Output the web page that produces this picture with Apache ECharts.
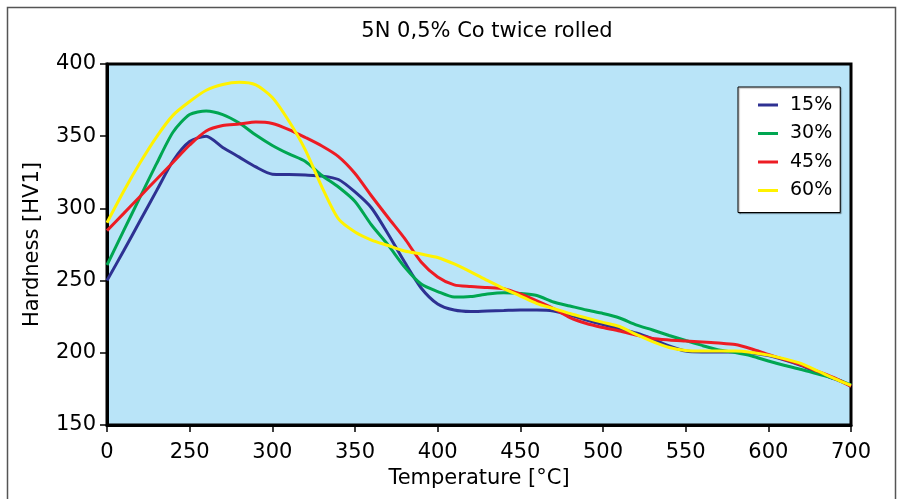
<!DOCTYPE html>
<html>
<head>
<meta charset="utf-8">
<script src="https://cdn.jsdelivr.net/npm/echarts@6/dist/echarts.min.js"></script>
<style>
  html, body { margin: 0; padding: 0; background: #fff; }
  #chart { width: 898px; height: 499px; }
</style>
</head>
<body>
<div id="chart"></div>
<script>
// Annealing temperatures (°C): as-rolled state, then 10 °C steps to 600, 20 °C steps to 700
const temperatures = [0,
  210, 220, 230, 240, 250, 260, 270, 280, 290, 300,
  310, 320, 330, 340, 350, 360, 370, 380, 390, 400,
  410, 420, 430, 440, 450, 460, 470, 480, 490, 500,
  510, 520, 530, 540, 550, 560, 570, 580, 590, 600,
  620, 640, 660, 680, 700];

// Hardness HV1 for each degree of deformation
const hv15 = [250,
  270.5, 291.4, 312.3, 333, 346.3, 350, 342.2, 335.5, 328.7, 323.7,
  323.5, 323.1, 322.4, 320, 311.4, 300.3, 282.3, 262.9, 244.9, 233.8,
  229.6, 228.6, 229, 229.3, 229.6, 229.6, 229, 226.2, 222.7, 219.6,
  216.5, 213.7, 209.6, 204.7, 201.2, 200.6, 200.6, 200.6, 199.9, 198.1,
  195, 191.2, 186.4, 181.9, 177];
const hv30 = [260.8,
  284.4, 307.8, 331, 352.9, 365, 367.5, 365, 359.1, 350.8, 343.6,
  337.7, 332.5, 322.8, 314.8, 304.8, 288.5, 274.7, 259.4, 247.6, 242.4,
  238.6, 239, 240.7, 241.6, 241.1, 239.7, 235.2, 232.4, 229.6, 227.2,
  224.1, 219.3, 215.8, 212, 208.5, 205.1, 201.9, 200.2, 197.8, 194.3,
  191.2, 188.4, 185.3, 182.2, 177.7];
const hv45 = [284.6,
  296.4, 308.3, 320.2, 332, 343.9, 353.6, 357.4, 358.4, 359.8, 358.8,
  354.6, 349.1, 343.2, 335.9, 324.2, 308.6, 293.7, 279.2, 262.9, 252.5,
  247, 245.9, 245.2, 244.4, 240.7, 235.9, 230.7, 224.4, 220.3, 217.5,
  215.1, 212.3, 209.9, 208.9, 208.2, 207.5, 206.8, 205.7, 202.6, 198.8,
  195.3, 191.6, 187.1, 182.6, 176.7];
const hv60 = [290.1,
  311.7, 331.6, 349.6, 364.6, 374, 381.8, 385.8, 387.3, 385.5, 376.8,
  360.5, 340.4, 314.8, 292.7, 283.7, 278.1, 274.3, 270.5, 268.4, 266,
  261.5, 256, 250.1, 244.5, 239.3, 234.1, 230.7, 227.2, 224.1, 221.1,
  218.2, 212.7, 207.8, 203.7, 201.6, 201.2, 201.2, 201.2, 200.2, 198.4,
  195.8, 192.5, 187.4, 182.2, 177.4];

const seriesNames = ['15%', '30%', '45%', '60%'];
const seriesColors = ['#2e3192', '#00a651', '#ed1c24', '#fff200'];
const seriesValues = [hv15, hv30, hv45, hv60];

const FONT = '"DejaVu Sans", Verdana, sans-serif';

const chart = echarts.init(document.getElementById('chart'), null, { renderer: 'canvas' });

chart.setOption({
  animation: false,
  backgroundColor: '#ffffff',
  title: {
    text: '5N 0,5% Co twice rolled',
    left: 482,
    top: 16,
    textAlign: 'center',
    textStyle: { fontFamily: FONT, fontSize: 21, fontWeight: 'normal', color: '#000' }
  },
  graphic: [{
    type: 'rect',
    left: 5, top: 5,
    shape: { width: 888, height: 520 },
    style: { fill: 'none', stroke: '#555', lineWidth: 1.5 },
    silent: true,
    z: -1
  }],
  legend: {
    orient: 'vertical',
    left: 738,
    top: 87,
    data: seriesNames,
    icon: 'rect',
    itemWidth: 20,
    itemHeight: 3,
    itemGap: 8.5,
    padding: [8, 8, 12, 20],
    backgroundColor: '#ffffff',
    borderColor: '#000',
    borderWidth: 1,
    shadowColor: 'rgba(0,0,0,0.35)',
    shadowOffsetX: 1,
    shadowOffsetY: 1,
    shadowBlur: 1,
    textStyle: {
      fontFamily: FONT, fontSize: 19, color: '#000',
      lineHeight: 20, padding: [0, 0, 0, 7]
    }
  },
  grid: {
    left: 107, top: 64, right: 47, bottom: 74,
    show: true,
    backgroundColor: '#b9e4f8',
    borderColor: '#000',
    borderWidth: 3,
    containLabel: false
  },
  xAxis: {
    type: 'category',
    data: temperatures.map(String),
    boundaryGap: false,
    name: 'Temperature [°C]',
    nameLocation: 'middle',
    nameGap: 43,
    nameTextStyle: { fontFamily: FONT, fontSize: 21, color: '#000' },
    axisLine: { show: true, lineStyle: { color: '#000', width: 3 } },
    axisTick: { show: true, interval: 4, length: 7, lineStyle: { color: '#000', width: 1.5 } },
    axisLabel: {
      interval: 4, margin: 17,
      fontFamily: FONT, fontSize: 21, color: '#000'
    },
    splitLine: { show: false }
  },
  yAxis: {
    type: 'value',
    min: 150, max: 400, interval: 50,
    name: 'Hardness [HV1]',
    nameLocation: 'middle',
    nameGap: 64,
    nameTextStyle: { fontFamily: FONT, fontSize: 21, color: '#000' },
    axisLine: { show: true, lineStyle: { color: '#000', width: 3 } },
    axisTick: { show: true, length: 7, lineStyle: { color: '#000', width: 1.5 } },
    axisLabel: { margin: 11, fontFamily: FONT, fontSize: 21, color: '#000' },
    splitLine: { show: false }
  },
  series: seriesNames.map((name, k) => ({
    name: name,
    type: 'line',
    data: seriesValues[k],
    smooth: 0.25,
    showSymbol: false,
    symbol: 'none',
    lineStyle: { color: seriesColors[k], width: 3 },
    itemStyle: { color: seriesColors[k] },
    z: 2 + k
  }))
});
</script>
</body>
</html>
